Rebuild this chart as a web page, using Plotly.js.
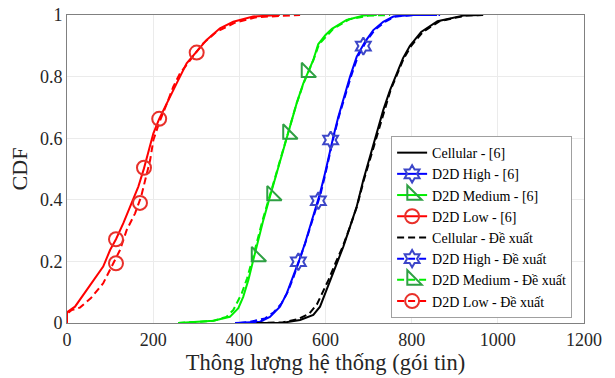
<!DOCTYPE html>
<html>
<head>
<meta charset="utf-8">
<script src="https://cdn.plot.ly/plotly-3.0.1.min.js"></script>
<style>html,body{margin:0;padding:0;background:#fff;}#chart{width:615px;height:378px;}</style>
</head>
<body>
<div id="chart"></div>
<script>
// ---- Data ----
const xTicks = [0, 200, 400, 600, 800, 1000, 1200];
const yTicks = [0, 0.2, 0.4, 0.6, 0.8, 1];
const yTickLabels = ['0', '0.2', '0.4', '0.6', '0.8', '1'];

const seriesNames = ['Cellular - [6]', 'D2D High - [6]', 'D2D Medium - [6]', 'D2D Low - [6]',
  'Cellular - Đề xuất', 'D2D High - Đề xuất', 'D2D Medium - Đề xuất', 'D2D Low - Đề xuất'];

// Cellular
const cellRefX = [432.5,502,541,571.7,587.3,599,610.5,626,641.4,657,672.5,687.8,703.3,718.9,734.2,749.8,765.3,780,796,822,860,920,962];
const cellRefY = [0,0.001,0.01,0.026,0.053,0.096,0.14,0.194,0.248,0.313,0.378,0.464,0.54,0.616,0.692,0.756,0.81,0.86,0.9,0.945,0.98,0.998,1];
const cellPropX = [440,500,535,562,580,594,607,623,640,657,673,689,705,720,736,751,767,782,799,826,865,925,966];
const cellPropY = [0,0.002,0.012,0.03,0.06,0.1,0.14,0.194,0.248,0.313,0.378,0.464,0.54,0.616,0.692,0.756,0.81,0.86,0.9,0.945,0.98,0.998,1];

// D2D High
const highRefX = [390,420,448,471,494.4,510,525.3,539.2,552.5,564,575.7,587.3,598.9,609,618.2,629.8,643,657,672.5,691.7,711,734,757.5,800,859];
const highRefY = [0,0.001,0.004,0.02,0.053,0.096,0.15,0.205,0.259,0.313,0.367,0.421,0.486,0.551,0.605,0.67,0.735,0.8,0.865,0.913,0.951,0.978,0.995,1,1];
const highPropX = [400,425,459.6,480,498,512,526,540,553,565,577,589,600,610,619,631,645,659,675,694,714,738,762,810,866];
const highPropY = [0,0.004,0.015,0.035,0.064,0.1,0.15,0.205,0.259,0.313,0.367,0.421,0.486,0.551,0.605,0.67,0.735,0.8,0.865,0.913,0.951,0.978,0.995,1,1];

// D2D Medium
const medRefX = [258,300,339.6,378,397.7,409,421,432.5,444,455.7,471,486.7,502,517.6,533,548.5,571.7,583,600,615,649,687.8,719];
const medRefY = [0,0.003,0.007,0.02,0.048,0.085,0.14,0.205,0.27,0.334,0.41,0.486,0.562,0.637,0.713,0.778,0.854,0.905,0.935,0.955,0.984,0.998,1];
const medPropX = [258,300,340,370,386,405.5,418,430,442,454,470,486,502,518,533,549,572,585,602,618,655,700,750];
const medPropY = [0,0.003,0.007,0.02,0.042,0.096,0.145,0.205,0.27,0.334,0.41,0.486,0.562,0.637,0.713,0.778,0.854,0.905,0.932,0.955,0.986,0.998,1];

// D2D Low
const lowRefX = [0,0,18.6,45.7,69,84,100,113.7,130.8,150,165.6,178.7,191,200.5,214,231,254.5,277.7,301,324,355,386,432,494];
const lowRefY = [0,0.035,0.053,0.107,0.15,0.183,0.237,0.272,0.324,0.389,0.443,0.502,0.562,0.616,0.663,0.713,0.778,0.843,0.881,0.919,0.957,0.978,0.995,1];
const lowPropX = [0,0,11,30,55,84,107.5,123,138.6,158,172,183,193,200.5,214,231,246.7,262,285.5,316,347.5,390,440,541];
const lowPropY = [0,0.03,0.042,0.05,0.08,0.129,0.194,0.237,0.302,0.356,0.41,0.475,0.529,0.594,0.65,0.71,0.767,0.81,0.854,0.908,0.946,0.975,0.993,1];

// Marker positions
const highRefMkX = [687.8, 583.4];   const highRefMkY = [0.899, 0.397];
const highPropMkX = [612, 537];      const highPropMkY = [0.594, 0.199];
const medRefMkX = [556, 476];        const medRefMkY = [0.814, 0.414];
const medPropMkX = [513, 440];       const medPropMkY = [0.614, 0.216];
const lowRefMkX = [113.7, 178.7, 214, 301]; const lowRefMkY = [0.272, 0.504, 0.663, 0.878];
const lowPropMkX = [113.7, 169.4];   const lowPropMkY = [0.194, 0.39];

// ---- Styling ----
const BLACK = '#000000', BLUE = '#0000ff', GREEN = '#00ee00', RED = '#ff0000';
const BLUE_MK = '#3c46c8', GREEN_MK = '#2ea043', RED_MK = '#e8302a';
const DASH = '7px,4px';

function gapped(arr) { // separate marker points so no line joins them
  const out = [];
  arr.forEach((v, i) => { if (i) out.push(null); out.push(v); });
  return out;
}
function lineTrace(x, y, color, dash, name, rank, legend) {
  return {x: x, y: y, type: 'scatter', mode: 'lines', name: name,
    line: {color: color, width: 2, dash: dash}, showlegend: legend, legendrank: rank,
    hoverinfo: 'skip'};
}
function markerTrace(x, y, color, dash, mkColor, symbol, size, name, rank) {
  return {x: gapped(x), y: gapped(y), type: 'scatter', mode: 'lines+markers', name: name,
    connectgaps: false,
    line: {color: color, width: 2, dash: dash},
    marker: {symbol: symbol, size: size, color: mkColor, line: {color: mkColor, width: 2}},
    showlegend: true, legendrank: rank, hoverinfo: 'skip'};
}

const traces = [
  lineTrace(cellRefX, cellRefY, BLACK, 'solid', seriesNames[0], 1, true),
  lineTrace(highRefX, highRefY, BLUE, 'solid', seriesNames[1], 2, false),
  lineTrace(medRefX, medRefY, GREEN, 'solid', seriesNames[2], 3, false),
  lineTrace(lowRefX, lowRefY, RED, 'solid', seriesNames[3], 4, false),
  lineTrace(cellPropX, cellPropY, BLACK, DASH, seriesNames[4], 5, true),
  lineTrace(highPropX, highPropY, BLUE, DASH, seriesNames[5], 6, false),
  lineTrace(medPropX, medPropY, GREEN, DASH, seriesNames[6], 7, false),
  lineTrace(lowPropX, lowPropY, RED, DASH, seriesNames[7], 8, false),
  markerTrace(highRefMkX, highRefMkY, BLUE, 'solid', BLUE_MK, 'hexagram-open', 13, seriesNames[1], 2),
  markerTrace(medRefMkX, medRefMkY, GREEN, 'solid', GREEN_MK, 'triangle-sw-open', 16, seriesNames[2], 3),
  markerTrace(lowRefMkX, lowRefMkY, RED, 'solid', RED_MK, 'circle-open', 14, seriesNames[3], 4),
  markerTrace(highPropMkX, highPropMkY, BLUE, DASH, BLUE_MK, 'hexagram-open', 13, seriesNames[5], 6),
  markerTrace(medPropMkX, medPropMkY, GREEN, DASH, GREEN_MK, 'triangle-sw-open', 16, seriesNames[6], 7),
  markerTrace(lowPropMkX, lowPropMkY, RED, DASH, RED_MK, 'circle-open', 14, seriesNames[7], 8)
];

const FONT = 'Liberation Serif';
const layout = {
  width: 615, height: 378,
  margin: {l: 67, r: 31, t: 15, b: 55},
  paper_bgcolor: '#ffffff', plot_bgcolor: '#ffffff',
  font: {family: FONT, color: '#262626', size: 18},
  showlegend: true,
  xaxis: {
    range: [0, 1200], tickvals: xTicks, ticktext: xTicks.map(String),
    showgrid: true, gridcolor: '#ebebeb', gridwidth: 1,
    showline: true, linecolor: '#808080', linewidth: 1, mirror: true,
    zeroline: false, ticks: '', tickfont: {size: 18, family: FONT, color: '#262626'},
    title: {text: 'Thông lượng hệ thống (gói tin)', font: {size: 22.5, family: FONT, color: '#262626'}, standoff: 4}
  },
  yaxis: {
    range: [0, 1], tickvals: yTicks, ticktext: yTickLabels,
    showgrid: true, gridcolor: '#ebebeb', gridwidth: 1,
    showline: true, linecolor: '#808080', linewidth: 1, mirror: true,
    zeroline: false, ticks: '', tickfont: {size: 18, family: FONT, color: '#262626'},
    title: {text: 'CDF', font: {size: 22, family: FONT, color: '#262626'}, standoff: 6}
  },
  legend: {
    x: 0.977, y: 0.607, xanchor: 'right', yanchor: 'top',
    bgcolor: '#ffffff', bordercolor: '#a0a0a0', borderwidth: 1,
    font: {family: FONT, size: 14, color: '#000000'},
    tracegroupgap: 0, itemwidth: 30
  }
};

Plotly.newPlot('chart', traces, layout, {displayModeBar: false, staticPlot: true});
</script>
</body>
</html>
